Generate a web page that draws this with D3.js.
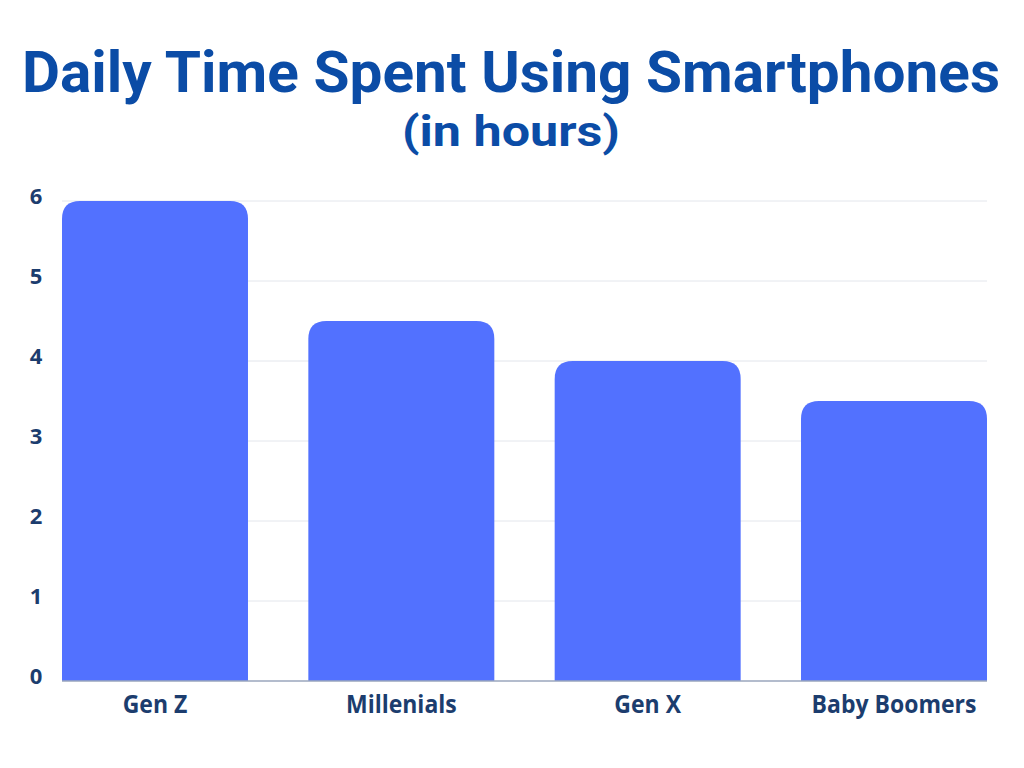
<!DOCTYPE html>
<html>
<head>
<meta charset="utf-8">
<script src="https://cdn.jsdelivr.net/npm/d3@7"></script>
<style>
  body { margin: 0; background: #fff; }
  svg { display: block; }
</style>
</head>
<body>
<div id="chart"></div>
<script>
// data
const categories = ["Gen Z", "Millenials", "Gen X", "Baby Boomers"]
const hours = [6, 4.5, 4, 3.5]
const yTicks = [0, 1, 2, 3, 4, 5, 6]

const W = 1024, H = 768
const margin = { top: 201, right: 37, bottom: 87, left: 62 }

const svg = d3.select("#chart")
  .append("svg")
    .attr("width", W)
    .attr("height", H)

svg.append("rect")
  .attr("width", W)
  .attr("height", H)
  .attr("fill", "#ffffff")

// titles (squeezed a bit to look like the condensed face of the original)
svg.append("text")
  .attr("x", 511)
  .attr("y", 92)
  .attr("text-anchor", "middle")
  .attr("font-family", "Roboto")
  .attr("font-weight", 700)
  .attr("font-size", 57)
  .attr("fill", "#0b4ca6")
  .attr("textLength", 978)
  .attr("lengthAdjust", "spacingAndGlyphs")
  .text("Daily Time Spent Using Smartphones")

svg.append("text")
  .attr("x", 511)
  .attr("y", 146)
  .attr("text-anchor", "middle")
  .attr("font-family", "Roboto")
  .attr("font-weight", 700)
  .attr("font-size", 43)
  .attr("fill", "#0b4ca6")
  .attr("textLength", 218)
  .attr("lengthAdjust", "spacingAndGlyphs")
  .text("(in hours)")

const x = d3.scaleBand()
  .domain(categories)
  .range([margin.left, W - margin.right])
  .paddingInner(0.245)
  .paddingOuter(0)

const y = d3.scaleLinear()
  .domain([0, 6])
  .range([H - margin.bottom, margin.top])

// grid lines
svg.append("g")
  .selectAll("line")
  .data(yTicks.filter(d => d > 0))
  .enter()
  .append("line")
    .attr("x1", margin.left)
    .attr("x2", W - margin.right)
    .attr("y1", d => y(d))
    .attr("y2", d => y(d))
    .attr("stroke", "#e3e6ec")
    .attr("stroke-width", 1)

// bars, rounded on top only
const r = 18
svg.append("g")
  .selectAll("path")
  .data(categories)
  .enter()
  .append("path")
    .attr("fill", "#5271ff")
    .attr("d", (d, i) => {
      const x0 = x(d), x1 = x(d) + x.bandwidth()
      const yt = y(hours[i]), yb = y(0)
      return `M${x0},${yb} L${x0},${yt + r} Q${x0},${yt} ${x0 + r},${yt}` +
        ` L${x1 - r},${yt} Q${x1},${yt} ${x1},${yt + r} L${x1},${yb} Z`
    })

// baseline
svg.append("line")
  .attr("x1", margin.left)
  .attr("x2", W - margin.right)
  .attr("y1", y(0))
  .attr("y2", y(0))
  .attr("stroke", "#9aa6bd")
  .attr("stroke-width", 1.5)

// y axis
const yAxis = svg.append("g")
  .attr("transform", `translate(${margin.left - 26},0)`)
  .call(d3.axisLeft(y).tickValues(yTicks).tickFormat(d3.format("d")).tickSize(0).tickPadding(0))

yAxis.select(".domain").remove()
yAxis.selectAll("text")
  .attr("text-anchor", "middle")
  .attr("dy", "0.1em")
  .attr("font-family", "Open Sans")
  .attr("font-weight", 700)
  .attr("font-size", 22)
  .attr("fill", "#1c3d6e")

// x axis
const xAxis = svg.append("g")
  .attr("transform", `translate(0,${y(0)})`)
  .call(d3.axisBottom(x).tickSize(0).tickPadding(13))

xAxis.select(".domain").remove()
xAxis.selectAll("text")
  .attr("font-family", "Open Sans")
  .attr("font-weight", 700)
  .attr("font-size", 23)
  .attr("fill", "#1c3d6e")
  .attr("transform", "scale(1, 1.08)")
</script>
</body>
</html>
